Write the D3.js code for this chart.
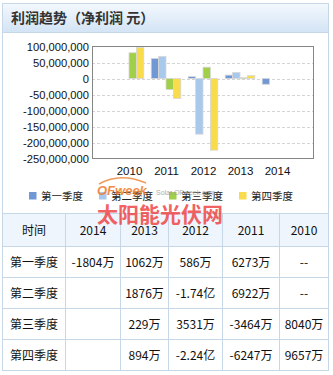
<!DOCTYPE html>
<html>
<head>
<meta charset="utf-8">
<script src="https://cdn.jsdelivr.net/npm/d3@7"></script>
<style>
  body { margin: 0; background: #fff; }
  svg { display: block; }
</style>
</head>
<body>
<svg id="chart" width="333" height="375"></svg>
<script>
// Net profit per quarter, in units of 万 (10,000 yuan).
// null = no data ("--"), undefined = quarter not yet reported (blank cell).
const years = ["2010", "2011", "2012", "2013", "2014"];
const quarters = ["第一季度", "第二季度", "第三季度", "第四季度"];
const q1 = [null, 6273, 586, 1062, -1804];
const q2 = [null, 6922, -17400, 1876, undefined];
const q3 = [8040, -3464, 3531, 229, undefined];
const q4 = [9657, -6247, -22400, 894, undefined];
const yTicks = [100000000, 50000000, 0, -50000000, -100000000, -150000000, -200000000, -250000000];
const tableYears = ["2014", "2013", "2012", "2011", "2010"];
const colors = ["#6f98d4", "#a9c9ec", "#a2cf48", "#f9dc4c"];

const series = [q1, q2, q3, q4];
const svg = d3.select("#chart");

// ---- panel frame & header ----
const defs = svg.append("defs");
const grad = defs.append("linearGradient").attr("id", "hdr").attr("x1", 0).attr("y1", 0).attr("x2", 0).attr("y2", 1);
grad.append("stop").attr("offset", 0).attr("stop-color", "#f3f8fd");
grad.append("stop").attr("offset", 1).attr("stop-color", "#d3e4f5");

svg.append("rect").attr("x", 2.5).attr("y", 3.5).attr("width", 326).attr("height", 367)
  .attr("fill", "#fff").attr("stroke", "#c6d7e8");
svg.append("rect").attr("x", 2.5).attr("y", 3.5).attr("width", 326).attr("height", 29)
  .attr("fill", "url(#hdr)").attr("stroke", "#c6d7e8");
svg.append("text").attr("x", 11).attr("y", 23)
  .attr("font-family", "'Noto Sans CJK SC', sans-serif").attr("font-size", 14).attr("font-weight", "bold")
  .attr("fill", "#333").text("利润趋势（净利润 元）");

// ---- chart ----
const plot = { left: 92, right: 314, top: 46.5, bottom: 158.5 };
const x = d3.scalePoint().domain(years).range([plot.left, plot.right]).padding(1);
const barW = x.step() * 0.2;
const xq = d3.scaleBand().domain(d3.range(quarters.length))
  .range([-barW * 2, barW * 2]);
const y = d3.scaleLinear().domain([-250000000, 100000000]).range([plot.bottom, plot.top]);

const fmt = d3.formatLocale({ decimal: ".", thousands: ",", grouping: [3], currency: ["", ""], minus: "-" }).format(",");

// dashed gridlines
svg.append("g").selectAll("line").data(yTicks.filter(t => t !== 100000000 && t !== -250000000)).join("line")
  .attr("x1", plot.left).attr("x2", plot.right)
  .attr("y1", d => Math.round(y(d)) + 0.5).attr("y2", d => Math.round(y(d)) + 0.5)
  .attr("stroke", "#d4d4d4").attr("stroke-dasharray", "3,2");

// y axis labels
const yAxis = d3.axisLeft(y).tickValues(yTicks).tickSize(0).tickPadding(3).tickFormat(fmt);
svg.append("g").attr("transform", `translate(${plot.left},0)`).call(yAxis)
  .call(g => g.select(".domain").remove())
  .selectAll("text").attr("font-family", "'Liberation Sans', Arial, sans-serif").attr("font-size", 11.2).attr("fill", "#111");

// x axis labels
const xAxis = d3.axisBottom(x).tickSize(0).tickPadding(8);
svg.append("g").attr("transform", `translate(0,${plot.bottom})`).call(xAxis)
  .call(g => g.select(".domain").remove())
  .selectAll("text").attr("font-family", "'Liberation Sans', Arial, sans-serif").attr("font-size", 11.5).attr("fill", "#111");

// bars
const barData = [];
series.forEach((s, qi) => s.forEach((v, yi) => {
  if (v !== null && v !== undefined) barData.push({ qi, year: years[yi], value: v * 10000 });
}));
svg.append("g").selectAll("rect").data(barData).join("rect")
  .attr("x", d => x(d.year) + xq(d.qi))
  .attr("width", xq.bandwidth())
  .attr("y", d => y(Math.max(0, d.value)))
  .attr("height", d => Math.max(1, Math.abs(y(d.value) - y(0))))
  .attr("fill", d => colors[d.qi])
  .attr("stroke", "#d8d8d8").attr("stroke-width", 0.8);

// plot frame
svg.append("rect").attr("x", plot.left + 0.5).attr("y", plot.top)
  .attr("width", plot.right - plot.left - 1).attr("height", plot.bottom - plot.top)
  .attr("fill", "none").attr("stroke", "#858585");

// legend
const legend = svg.append("g").attr("font-family", "'Noto Sans CJK SC', sans-serif").attr("font-size", 10.5);
quarters.forEach((q, i) => {
  const lx = 29 + i * 70;
  legend.append("rect").attr("x", lx).attr("y", 192).attr("width", 7.5).attr("height", 7.5).attr("fill", colors[i]);
  legend.append("text").attr("x", lx + 12).attr("y", 200).attr("fill", "#222").text(q);
});

// ---- data table ----
const cols = [2.5, 65.5, 120.5, 168.5, 222.5, 279.5, 328.5];
const rows = [213.5, 246.5, 277.5, 308.5, 339.5, 370.5];
const table = svg.append("g");
table.append("rect").attr("x", cols[0]).attr("y", rows[0])
  .attr("width", cols[6] - cols[0]).attr("height", rows[1] - rows[0]).attr("fill", "#eef5fc");
table.selectAll("line.h").data(rows).join("line").attr("class", "h")
  .attr("x1", cols[0]).attr("x2", cols[6]).attr("y1", d => d).attr("y2", d => d)
  .attr("stroke", "#c6d7e8");
table.selectAll("line.v").data(cols).join("line").attr("class", "v")
  .attr("x1", d => d).attr("x2", d => d).attr("y1", rows[0]).attr("y2", rows[5])
  .attr("stroke", "#c6d7e8");

function cellText(v) {
  if (v === undefined) return "";
  if (v === null) return "--";
  if (Math.abs(v) >= 10000) return (v / 10000).toFixed(2) + "亿";
  return v + "万";
}
const tf = "'Noto Sans CJK SC', sans-serif";
function putCell(ci, ri, txt) {
  table.append("text")
    .attr("x", (cols[ci] + cols[ci + 1]) / 2).attr("y", (rows[ri] + rows[ri + 1]) / 2 + 4.5)
    .attr("text-anchor", "middle").attr("font-family", tf).attr("font-size", 12).attr("fill", "#111")
    .text(txt);
}
putCell(0, 0, "时间");
tableYears.forEach((yr, ci) => putCell(ci + 1, 0, yr));
quarters.forEach((q, ri) => {
  putCell(0, ri + 1, q);
  tableYears.forEach((yr, ci) => putCell(ci + 1, ri + 1, cellText(series[ri][years.indexOf(yr)])));
});

// ---- site watermark ----
const wm = svg.append("g");
wm.append("path").attr("d", "M99,184 Q120,172 146,183")
  .attr("fill", "none").attr("stroke", "#f08a3c").attr("stroke-width", 1.6).attr("opacity", 0.85);
wm.append("text").attr("x", 97).attr("y", 195)
  .attr("font-family", "'Liberation Sans', Arial, sans-serif").attr("font-size", 13).attr("font-weight", "bold")
  .attr("font-style", "italic").attr("fill", "#f07a2a").attr("opacity", 0.85).text("OFweek");
wm.append("text").attr("x", 156).attr("y", 195)
  .attr("font-family", "'Liberation Sans', Arial, sans-serif").attr("font-size", 7)
  .attr("fill", "#999").attr("opacity", 0.8).text("Solar.OFweek.com");
wm.append("text").attr("x", 97).attr("y", 222)
  .attr("font-family", "'Noto Sans CJK SC', sans-serif").attr("font-size", 21).attr("font-weight", "bold")
  .attr("fill", "#ee3b3b").attr("opacity", 0.8).text("太阳能光伏网");
</script>
</body>
</html>
